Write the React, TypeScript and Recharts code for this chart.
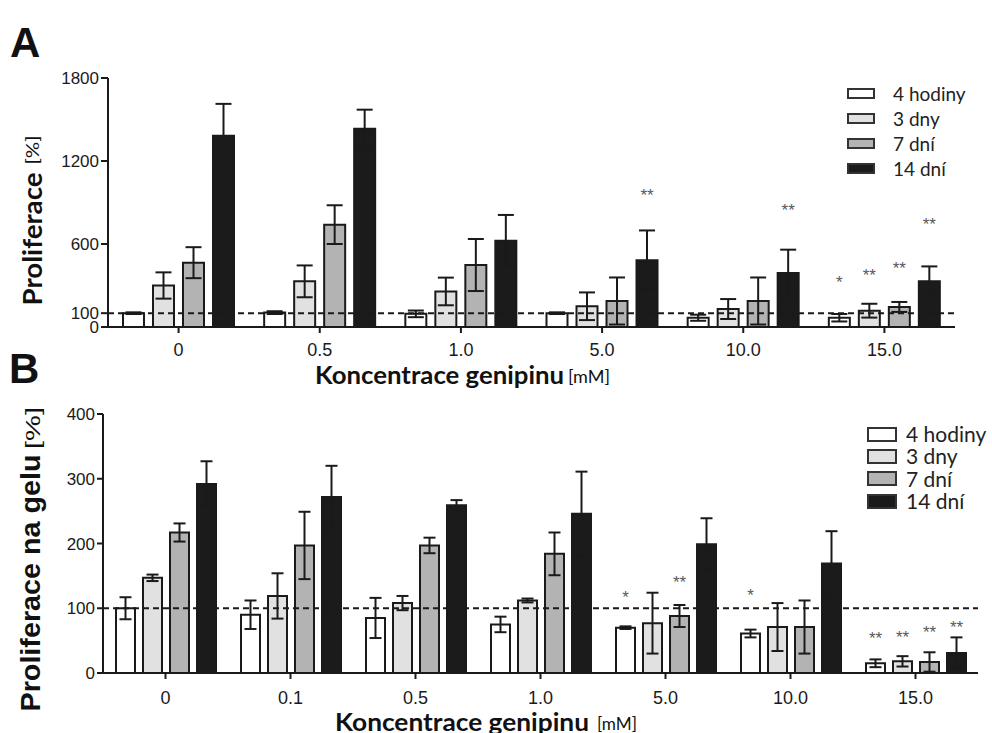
import React from 'react';
import { BarChart, Bar, XAxis, YAxis, ErrorBar, ReferenceLine, LabelList, Legend } from 'recharts';

const seriesNames = ['4 hodiny', '3 dny', '7 dní', '14 dní'];
const seriesKeys = ['h4', 'd3', 'd7', 'd14'];
const seriesFills = ['#ffffff', '#e1e1e1', '#b3b3b3', '#1b1b1b'];

// ---------- Panel A ----------
const catsA = ['0', '0.5', '1.0', '5.0', '10.0', '15.0'];
const h4A = [100, 104, 95, 100, 67, 67];
const h4ErrA = [6, 10, 24, 6, 22, 27];
const d3A = [300, 330, 257, 150, 130, 118];
const d3ErrA = [95, 115, 100, 100, 72, 50];
const d7A = [465, 740, 448, 188, 188, 145];
const d7ErrA = [112, 140, 188, 170, 170, 36];
const d14A = [1383, 1434, 624, 482, 390, 330];
const d14ErrA = [230, 137, 186, 216, 169, 108];
const h4SigA = ['', '', '', '', '', '*'];
const d3SigA = ['', '', '', '', '', '**'];
const d7SigA = ['', '', '', '', '', '**'];
const d14SigA = ['', '', '', '**', '**', '**'];
const h4SigPosA = [0, 0, 0, 0, 0, 354];
const d3SigPosA = [0, 0, 0, 0, 0, 407];
const d7SigPosA = [0, 0, 0, 0, 0, 455];
const d14SigPosA = [0, 0, 0, 980, 872, 771];
const ticksA = [0, 100, 600, 1200, 1800];

// ---------- Panel B ----------
const catsB = ['0', '0.1', '0.5', '1.0', '5.0', '10.0', '15.0'];
const h4B = [100, 90, 85, 75, 70, 61, 15];
const h4ErrB = [17, 22, 31, 12, 2, 6, 6];
const d3B = [147, 119, 108, 112, 77, 71, 18];
const d3ErrB = [5, 35, 11, 3, 47, 37, 8];
const d7B = [217, 197, 197, 184, 88, 71, 17];
const d7ErrB = [14, 52, 12, 33, 17, 41, 15];
const d14B = [292, 272, 259, 246, 199, 169, 31];
const d14ErrB = [35, 48, 8, 65, 40, 50, 24];
const h4SigB = ['', '', '', '', '*', '*', '**'];
const d3SigB = ['', '', '', '', '', '', '**'];
const d7SigB = ['', '', '', '', '**', '', '**'];
const d14SigB = ['', '', '', '', '', '', '**'];
const h4SigPosB = [0, 0, 0, 0, 123, 126, 60];
const d3SigPosB = [0, 0, 0, 0, 0, 0, 62];
const d7SigPosB = [0, 0, 0, 0, 146, 0, 69];
const d14SigPosB = [0, 0, 0, 0, 0, 0, 77];
const ticksB = [0, 100, 200, 300, 400];

const buildData = (
  cats: string[],
  vals: number[][],
  errs: number[][],
  sigs: string[][]
) =>
  cats.map((c, i) => {
    const row: any = { cat: c };
    seriesKeys.forEach((k, s) => {
      row[k] = vals[s][i];
      row[k + 'Err'] = errs[s][i];
      row[k + 'Sig'] = sigs[s][i];
    });
    return row;
  });

const dataA = buildData(catsA, [h4A, d3A, d7A, d14A], [h4ErrA, d3ErrA, d7ErrA, d14ErrA], [h4SigA, d3SigA, d7SigA, d14SigA]);
const dataB = buildData(catsB, [h4B, d3B, d7B, d14B], [h4ErrB, d3ErrB, d7ErrB, d14ErrB], [h4SigB, d3SigB, d7SigB, d14SigB]);
const valsA = [h4A, d3A, d7A, d14A];
const valsB = [h4B, d3B, d7B, d14B];
const sigPosA = [h4SigPosA, d3SigPosA, d7SigPosA, d14SigPosA];
const sigPosB = [h4SigPosB, d3SigPosB, d7SigPosB, d14SigPosB];

const ARIAL = '"Liberation Sans", Arial, sans-serif';
const CAL = 'Lato, "Open Sans", sans-serif';

const makeSig = (vals: number[], pos: number[]) => (p: any) => {
  const idx = p.index;
  const label = p.value;
  if (!label || idx == null) return null;
  const vb = p.viewBox && p.viewBox.height != null ? p.viewBox : p;
  const x = Number(vb.x);
  const y = Number(vb.y);
  const w = Number(vb.width);
  const h = Number(vb.height);
  const ppu = h / vals[idx];
  const cy = y + h - pos[idx] * ppu;
  return (
    <text x={x + w / 2} y={cy + 10} textAnchor="middle" fontSize={17} fill="#595959" fontFamily={ARIAL}>
      {label}
    </text>
  );
};

const makeLegend = (boxW: number, boxH: number, rowH: number, fontSize: number, gap: number) => () => (
  <div style={{ fontFamily: CAL, color: '#222' }}>
    {seriesNames.map((name, i) => (
      <div key={name} style={{ display: 'flex', alignItems: 'center', height: rowH }}>
        <div
          style={{
            width: boxW,
            height: boxH,
            boxSizing: 'border-box',
            border: '2px solid #333',
            background: seriesFills[i],
            marginRight: gap,
            flex: 'none',
          }}
        />
        <span style={{ fontSize, lineHeight: rowH + 'px', whiteSpace: 'nowrap' }}>{name}</span>
      </div>
    ))}
  </div>
);

const renderBars = (vals: number[][], pos: number[][], capW: number) =>
  seriesKeys.map((k, s) => (
    <Bar
      key={k}
      dataKey={k}
      name={seriesNames[s]}
      fill={seriesFills[s]}
      stroke="#1a1a1a"
      strokeWidth={2}
      isAnimationActive={false}
    >
      <ErrorBar dataKey={k + 'Err'} width={capW} stroke="#1a1a1a" strokeWidth={2} direction="y" />
      <LabelList dataKey={k + 'Sig'} content={makeSig(vals[s], pos[s])} />
    </Bar>
  ));

const xTitleA = () => (
  <g>
    <text x={315} y={384} fontFamily={CAL} fontWeight="bold" fontSize={25} fill="#111" textLength={249} lengthAdjust="spacingAndGlyphs">
      Koncentrace genipinu
    </text>
    <text x={568} y={383} fontFamily={CAL} fontSize={18} fill="#111" textLength={42} lengthAdjust="spacingAndGlyphs">
      [mM]
    </text>
    <text x={9} y={383} fontFamily={ARIAL} fontWeight="bold" fontSize={42} fill="#111">
      B
    </text>
  </g>
);

const yTitleA = () => (
  <g>
    <text x={10} y={57} fontFamily={ARIAL} fontWeight="bold" fontSize={42} fill="#111">
      A
    </text>
    <text transform="rotate(-90)" x={-239} y={42} textAnchor="middle" fontFamily={CAL} fontWeight="bold" fontSize={27} fill="#111" textLength={133} lengthAdjust="spacingAndGlyphs">
      Proliferace
    </text>
    <text transform="rotate(-90)" x={-150} y={39} textAnchor="middle" fontFamily={CAL} fontSize={18} fill="#111" textLength={29} lengthAdjust="spacingAndGlyphs">
      [%]
    </text>
  </g>
);

const xTitleB = () => (
  <g>
    <text x={335} y={341} fontFamily={CAL} fontWeight="bold" fontSize={25} fill="#111" textLength={254} lengthAdjust="spacingAndGlyphs">
      Koncentrace genipinu
    </text>
    <text x={597} y={340} fontFamily={CAL} fontSize={18} fill="#111" textLength={40} lengthAdjust="spacingAndGlyphs">
      [mM]
    </text>
  </g>
);

const yTitleB = () => (
  <g>
    <text transform="rotate(-90)" x={-193} y={40} textAnchor="middle" fontFamily={ARIAL} fontWeight="bold" fontSize={27} fill="#111" textLength={257} lengthAdjust="spacingAndGlyphs">
      Proliferace na gelu
    </text>
    <text transform="rotate(-90)" x={-38} y={40} textAnchor="middle" fontFamily={ARIAL} fontSize={21} fill="#111" textLength={42} lengthAdjust="spacingAndGlyphs">
      [%]
    </text>
  </g>
);

const tickStyle = { fontSize: 18, fill: '#1a1a1a', fontFamily: ARIAL };
const yTickStyle = { fontSize: 17, fill: '#1a1a1a', fontFamily: ARIAL };
const axisLine = { stroke: '#1a1a1a', strokeWidth: 2 };

export default function App() {
  return (
    <div style={{ position: 'absolute', left: 0, top: 0, width: 992, height: 733, background: '#fff', overflow: 'hidden' }}>
      <div style={{ position: 'absolute', left: 0, top: 0 }}>
        <BarChart
          width={992}
          height={400}
          data={dataA}
          margin={{ top: 78, right: 37, bottom: 0, left: 48 }}
          barCategoryGap={15}
          barGap={9}
        >
          <ReferenceLine y={100} stroke="#1a1a1a" strokeWidth={2} strokeDasharray="6 4" />
          <XAxis
            dataKey="cat"
            height={73}
            tick={tickStyle}
            tickSize={6}
            tickMargin={10}
            axisLine={axisLine}
            tickLine={axisLine}
            interval={0}
            label={{ content: xTitleA }}
          />
          <YAxis
            domain={[0, 1800]}
            ticks={ticksA}
            interval={0}
            width={60}
            tick={yTickStyle}
            tickSize={7}
            tickMargin={2}
            axisLine={axisLine}
            tickLine={axisLine}
            label={{ content: yTitleA }}
          />
          <Legend
            layout="vertical"
            align="center"
            verticalAlign="middle"
            content={makeLegend(28, 11, 25, 19, 18)}
            wrapperStyle={{ position: 'absolute', left: 847, top: 81, width: 140, height: 100 }}
          />
          {renderBars(valsA, sigPosA, 8)}
        </BarChart>
      </div>
      <div style={{ position: 'absolute', left: 0, top: 390 }}>
        <BarChart
          width={992}
          height={343}
          data={dataB}
          margin={{ top: 24, right: 14, bottom: 0, left: 45 }}
          barCategoryGap={13}
          barGap={8}
        >
          <ReferenceLine y={100} stroke="#1a1a1a" strokeWidth={2} strokeDasharray="6 4" />
          <XAxis
            dataKey="cat"
            height={60}
            tick={tickStyle}
            tickSize={6}
            tickMargin={12}
            axisLine={axisLine}
            tickLine={axisLine}
            interval={0}
            label={{ content: xTitleB }}
          />
          <YAxis
            domain={[0, 400]}
            ticks={ticksB}
            interval={0}
            width={58}
            tick={yTickStyle}
            tickSize={6}
            tickMargin={2}
            axisLine={axisLine}
            tickLine={axisLine}
            label={{ content: yTitleB }}
          />
          <Legend
            layout="vertical"
            align="center"
            verticalAlign="middle"
            content={makeLegend(30, 15, 22.3, 21, 9)}
            wrapperStyle={{ position: 'absolute', left: 867, top: 33, width: 125, height: 92 }}
          />
          {renderBars(valsB, sigPosB, 6)}
        </BarChart>
      </div>
    </div>
  );
}
